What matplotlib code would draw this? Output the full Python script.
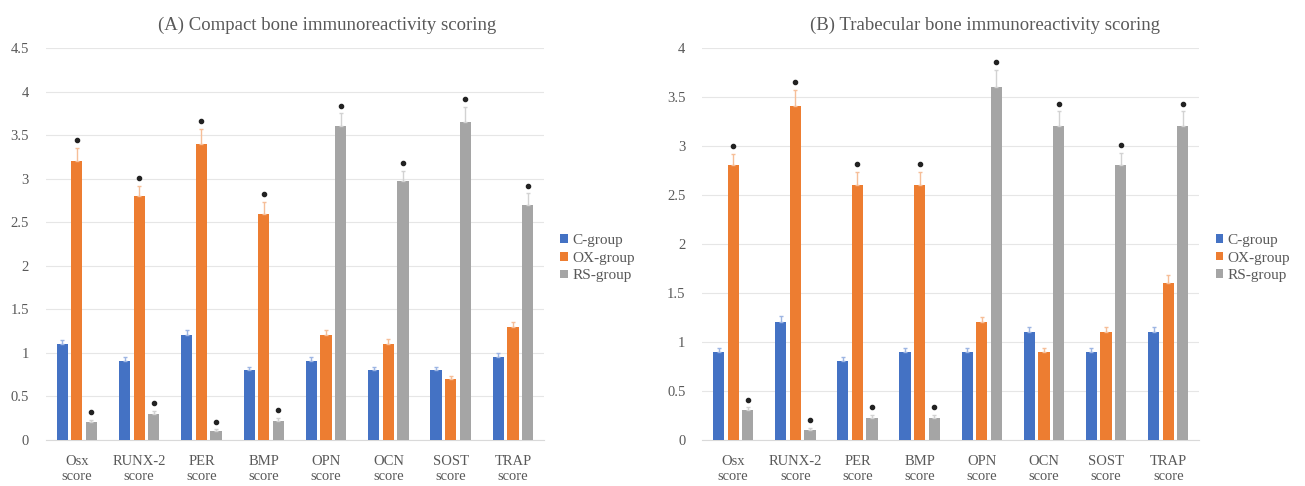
import matplotlib.pyplot as plt
import numpy as np

plt.rcParams["font.family"] = ["Liberation Serif", "DejaVu Serif"]

# ---------------------------------------------------------------------------
# Datos
# ---------------------------------------------------------------------------
MARKERS = ["Osx\nscore", "RUNX-2\nscore", "PER\nscore", "BMP\nscore",
           "OPN\nscore", "OCN\nscore", "SOST\nscore", "TRAP\nscore"]
GROUPS = ["C-group", "OX-group", "RS-group"]

# (A) hueso compacto
A_C = [1.1, 0.9, 1.2, 0.8, 0.9, 0.8, 0.8, 0.95]
A_OX = [3.2, 2.8, 3.4, 2.6, 1.2, 1.1, 0.7, 1.3]
A_RS = [0.2, 0.3, 0.1, 0.22, 3.6, 2.97, 3.65, 2.7]
A_C_ERR = [0.05, 0.05, 0.06, 0.04, 0.05, 0.04, 0.04, 0.05]
A_OX_ERR = [0.15, 0.12, 0.17, 0.13, 0.06, 0.06, 0.03, 0.05]
A_RS_ERR = [0.03, 0.03, 0.02, 0.03, 0.15, 0.12, 0.17, 0.13]
A_OX_SIG = [1, 1, 1, 1, 0, 0, 0, 0]
A_RS_SIG = [1, 1, 1, 1, 1, 1, 1, 1]

# (B) hueso trabecular
B_C = [0.9, 1.2, 0.8, 0.9, 0.9, 1.1, 0.9, 1.1]
B_OX = [2.8, 3.4, 2.6, 2.6, 1.2, 0.9, 1.1, 1.6]
B_RS = [0.3, 0.1, 0.22, 0.22, 3.6, 3.2, 2.8, 3.2]
B_C_ERR = [0.04, 0.06, 0.04, 0.04, 0.04, 0.05, 0.04, 0.05]
B_OX_ERR = [0.12, 0.17, 0.13, 0.13, 0.05, 0.04, 0.05, 0.08]
B_RS_ERR = [0.03, 0.02, 0.03, 0.03, 0.17, 0.15, 0.13, 0.15]
B_OX_SIG = [1, 1, 1, 1, 0, 0, 0, 0]
B_RS_SIG = [1, 1, 1, 1, 1, 1, 1, 1]

COLORS = ["#4472C4", "#ED7D31", "#A5A5A5"]
ERR_COLORS = ["#9DB5E3", "#F6BE98", "#D2D2D2"]
TXT = "#595959"


def draw_panel(ax, series, errs, sigs, ymax, title, title_x):
    x = np.arange(len(MARKERS))
    width = 0.18
    step = 0.235
    for i, (vals, err, col, ecol) in enumerate(zip(series, errs, COLORS, ERR_COLORS)):
        pos = x + (i - 1) * step
        ax.bar(pos, vals, width, color=col, label=GROUPS[i], zorder=3)
        ax.errorbar(pos, vals, yerr=[np.zeros(len(vals)), err], fmt="none",
                    ecolor=ecol, elinewidth=1, capsize=1.5, capthick=1, zorder=4)
        sig = sigs[i]
        if sig is not None:
            for p, v, e, s in zip(pos, vals, err, sig):
                if s:
                    ax.plot(p, v + e + ymax * 0.02, "o", color="#222222",
                            markersize=3, zorder=5)
    ax.set_xlim(-0.5, len(MARKERS) - 0.5)
    ax.set_ylim(0, ymax)
    ax.set_yticks(np.arange(0, ymax + 0.01, 0.5))
    ax.set_yticklabels([f"{t:g}" for t in np.arange(0, ymax + 0.01, 0.5)])
    ax.set_xticks(x)
    ax.set_xticklabels(MARKERS)
    ax.grid(axis="y", color="#E6E6E6", linewidth=0.8, zorder=0)
    for s in ["top", "right", "left"]:
        ax.spines[s].set_visible(False)
    ax.spines["bottom"].set_color("#D9D9D9")
    ax.tick_params(length=0, colors=TXT, labelsize=10.5)
    ax.tick_params(axis="x", pad=11)
    ax.tick_params(axis="y", pad=12)
    leg = ax.legend(loc="upper left", bbox_to_anchor=(1.005, 0.56), frameon=False,
                    fontsize=11, handlelength=0.5, handleheight=0.5,
                    handletextpad=0.3, labelspacing=0.3, labelcolor=TXT)
    fig.text(title_x, 0.948, title, ha="center", va="center", fontsize=13.5, color=TXT)
    return leg


fig = plt.figure(figsize=(13.05, 4.86), dpi=100)
ax_a = fig.add_axes([0.035, 0.095, 0.382, 0.806])
ax_b = fig.add_axes([0.538, 0.095, 0.381, 0.807])

draw_panel(ax_a, [A_C, A_OX, A_RS], [A_C_ERR, A_OX_ERR, A_RS_ERR],
           [None, A_OX_SIG, A_RS_SIG], 4.5,
           "(A) Compact bone immunoreactivity scoring", 0.251)
draw_panel(ax_b, [B_C, B_OX, B_RS], [B_C_ERR, B_OX_ERR, B_RS_ERR],
           [None, B_OX_SIG, B_RS_SIG], 4.0,
           "(B) Trabecular bone immunoreactivity scoring", 0.755)

fig.savefig("out.png", dpi=100)
